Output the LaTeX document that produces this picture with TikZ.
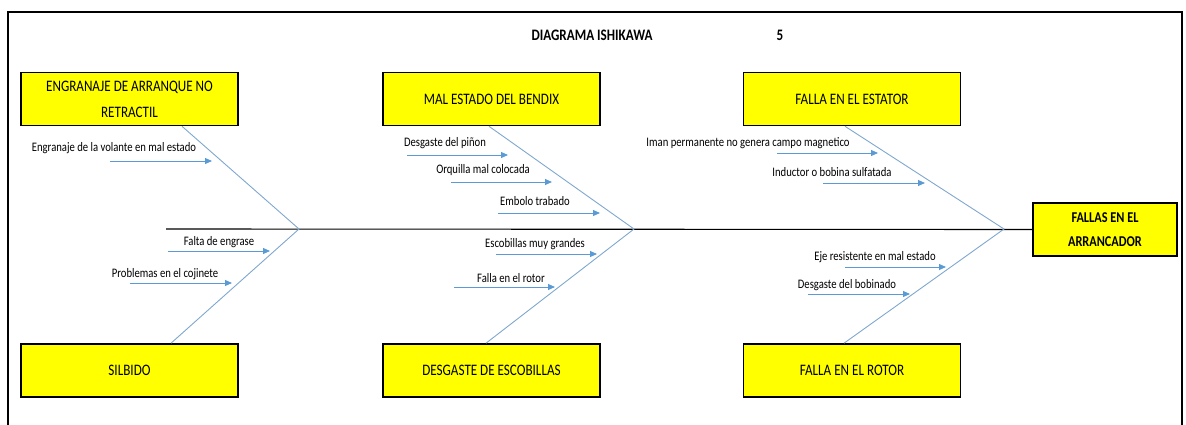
\documentclass[tikz,border=0pt]{standalone}
\usepackage{fontspec}
\usepackage{tikz}
\usetikzlibrary{arrows.meta}
\newfontfamily\lbl[FakeStretch=0.82]{Carlito}
\definecolor{causeblue}{HTML}{5B9BD5}
\definecolor{boneblue}{HTML}{7FA7CF}
\definecolor{boxyellow}{HTML}{FFFF00}
\tikzset{
  catbox/.style={draw=black,line width=1.6pt,fill=boxyellow,inner sep=0pt,
    minimum width=217pt,minimum height=53pt,align=center,
    font=\lbl\fontsize{16}{26}\selectfont},
  headbox/.style={draw=black,line width=1.6pt,fill=boxyellow,inner sep=0pt,
    minimum width=144pt,minimum height=53pt,align=center,
    font=\lbl\bfseries\fontsize{15}{24}\selectfont},
  cause/.style={draw=causeblue,line width=0.9pt,-{Triangle[length=7pt,width=6pt]}},
  bone/.style={draw=boneblue,line width=0.9pt},
  lbltext/.style={inner sep=0pt,font=\lbl\fontsize{13}{14}\selectfont}
}
\begin{document}
\begin{tikzpicture}[x=1pt,y=-1pt]
\useasboundingbox (0,0) rectangle (1186,425);
\draw[line width=1.5pt] (8,12) rectangle (1182,440);
% title
\node[font=\lbl\bfseries\fontsize{16}{18}\selectfont] (title) at (592,35) {DIAGRAMA ISHIKAWA};
\node[font=\lbl\bfseries\fontsize{16}{18}\selectfont] (num) at (780,35) {5};
% category boxes
\node[catbox] (cA) at (129.5,99) {ENGRANAJE DE ARRANQUE NO\\RETRACTIL};
\node[catbox] (cB) at (491.5,99) {MAL ESTADO DEL BENDIX};
\node[catbox] (cC) at (852,99) {FALLA EN EL ESTATOR};
\node[catbox] (cD) at (129.5,370.5) {SILBIDO};
\node[catbox] (cE) at (491.5,370.5) {DESGASTE DE ESCOBILLAS};
\node[catbox] (cF) at (852,370.5) {FALLA EN EL ROTOR};
\node[headbox] (head) at (1105,229.5) {FALLAS EN EL\\ARRANCADOR};
% spine and bones
\coordinate (s0) at (166,229);
\coordinate (j1) at (299,229);
\coordinate (j2) at (634,229);
\coordinate (j3) at (1004,229);
\draw[line width=1.1pt] (s0) -- (head.west);
\draw[bone] ([xshift=52.5pt]cA.south) -- (j1) -- ([xshift=41.5pt]cD.north);
\draw[bone] ([xshift=-2.5pt]cB.south) -- (j2) -- ([xshift=-5.5pt]cE.north);
\draw[bone] ([xshift=-7pt]cC.south) -- (j3) -- ([xshift=-8pt]cF.north);
% causes
\node[lbltext] (l1) at (114,148) {Engranaje de la volante en mal estado};
\node[lbltext] (l2) at (219,242) {Falta de engrase};
\node[lbltext] (l3) at (165,274) {Problemas en el cojinete};
\node[lbltext] (l4) at (445,143) {Desgaste del piñon};
\node[lbltext] (l5) at (483,170) {Orquilla mal colocada};
\node[lbltext] (l6) at (535,201) {Embolo trabado};
\node[lbltext] (l7) at (535,244) {Escobillas muy grandes};
\node[lbltext] (l8) at (511,278) {Falla en el rotor};
\node[lbltext] (l9) at (748,143) {Iman permanente no genera campo magnetico};
\node[lbltext] (l10) at (832,172) {Inductor o bobina sulfatada};
\node[lbltext] (l11) at (875,257) {Eje resistente en mal estado};
\node[lbltext] (l12) at (847,285) {Desgaste del bobinado};
\coordinate (a1) at (110,161);  \coordinate (b1) at (212,161);
\coordinate (a2) at (168,251);  \coordinate (b2) at (270,251);
\coordinate (a3) at (130,283);  \coordinate (b3) at (232,283);
\coordinate (a4) at (407,155);  \coordinate (b4) at (508,155);
\coordinate (a5) at (451,182);  \coordinate (b5) at (552,182);
\coordinate (a6) at (498,213);  \coordinate (b6) at (600,213);
\coordinate (a7) at (496,254);  \coordinate (b7) at (597,254);
\coordinate (a8) at (454,287);  \coordinate (b8) at (555,287);
\coordinate (a9) at (777,153);  \coordinate (b9) at (878,153);
\coordinate (a10) at (823,183); \coordinate (b10) at (925,183);
\coordinate (a11) at (845,267); \coordinate (b11) at (946,267);
\coordinate (a12) at (808,294); \coordinate (b12) at (910,294);
\draw[cause] (a1) -- (b1);
\draw[cause] (a2) -- (b2);
\draw[cause] (a3) -- (b3);
\draw[cause] (a4) -- (b4);
\draw[cause] (a5) -- (b5);
\draw[cause] (a6) -- (b6);
\draw[cause] (a7) -- (b7);
\draw[cause] (a8) -- (b8);
\draw[cause] (a9) -- (b9);
\draw[cause] (a10) -- (b10);
\draw[cause] (a11) -- (b11);
\draw[cause] (a12) -- (b12);
\end{tikzpicture}
\end{document}
